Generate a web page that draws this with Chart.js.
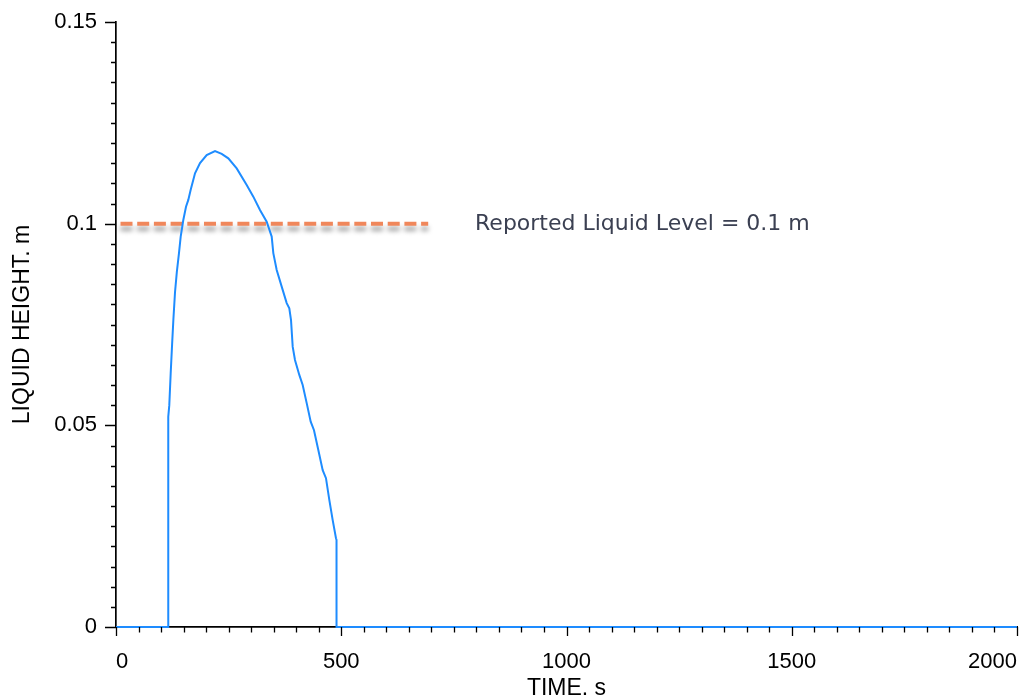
<!DOCTYPE html>
<html>
<head>
<meta charset="utf-8">
<title>Liquid height</title>
<script src="https://cdn.jsdelivr.net/npm/chart.js@4.4.1/dist/chart.umd.min.js"></script>
<style>
  html, body { margin: 0; padding: 0; background: #fff; overflow: hidden; }
  #chart { display: block; }
</style>
</head>
<body>
<canvas id="chart" width="1022" height="698"></canvas>
<script>
// liquid height history (time in s, height in m)
const timeSeconds = [
    0, 116, 116, 118.3, 121.4, 124.5, 127.5, 131.0, 135.0,
    139.8, 143.6, 149.4, 155.4, 160.5, 165.8, 175.4, 186.5, 201.3, 219.8,
    234.6, 249.3, 267.9, 290.1, 304.8, 319.6, 334.5, 345.6, 349.2, 356.7,
    367.8, 378.9, 384.7, 388.5, 392.2, 397.3, 406.9, 414.4, 423.3, 432.2,
    439.5, 449.1, 458.8, 466.1, 473.5, 481.0, 488.3, 489.5, 489.5, 2000
];
const liquidHeight = [
    0, 0, 0.0521, 0.0550, 0.0629, 0.0700, 0.0765, 0.0830, 0.0880,
    0.0927, 0.0968, 0.1009, 0.1042, 0.1059, 0.1084, 0.1125, 0.1150, 0.1170, 0.1180,
    0.1173, 0.1162, 0.1137, 0.1096, 0.1067, 0.1034, 0.1005, 0.0968, 0.0927, 0.0885,
    0.0844, 0.0803, 0.0790, 0.0761, 0.0695, 0.0662, 0.0625, 0.0600, 0.0555, 0.0509,
    0.0488, 0.0439, 0.0389, 0.0369, 0.0315, 0.0265, 0.0220, 0.0216, 0, 0
];

// reported level marker
const reportedLevel = 0.1;
const reportedSpan = [10, 693];
const reportedText = "Reported Liquid Level = 0.1 m";
const reportedTextTime = 797;

// axes
const xMajorTicks = [0, 500, 1000, 1500, 2000];
const yMajorTicks = [0, 0.05, 0.1, 0.15];
const xTitle = "TIME. s";
const yTitle = "LIQUID HEIGHT. m";

const tickFont = { family: "'Liberation Sans', Arial, sans-serif", size: 22 };
const titleFont = { family: "'Liberation Sans', Arial, sans-serif", size: 23, lineHeight: 0.8 };

function majorLabel(list, value) {
    const hit = list.find(m => Math.abs(m - value) < 1e-9);
    return hit === undefined ? "" : String(hit);
}

// minor/major tick marks drawn outward from the axis lines
const axisTicks = {
    id: "axisTicks",
    afterDraw(chart) {
        const { ctx, scales: { x, y } } = chart;
        ctx.save();
        ctx.strokeStyle = "#000";
        ctx.lineWidth = 1.3;
        ctx.beginPath();
        x.ticks.forEach(t => {
            const px = Math.round(x.getPixelForValue(t.value)) + 0.5;
            const len = majorLabel(xMajorTicks, t.value) !== "" ? 9 : 5.5;
            ctx.moveTo(px, y.bottom);
            ctx.lineTo(px, y.bottom + len);
        });
        y.ticks.forEach(t => {
            const py = Math.round(y.getPixelForValue(t.value)) + 0.5;
            const len = majorLabel(yMajorTicks, t.value) !== "" ? 11 : 5;
            ctx.moveTo(x.left, py);
            ctx.lineTo(x.left - len, py);
        });
        ctx.stroke();
        ctx.restore();
    }
};

// soft grey shadow under the dashed level line
const dashShadow = {
    id: "dashShadow",
    beforeDatasetDraw(chart, args) {
        if (args.index !== 1) return;
        const ctx = chart.ctx;
        ctx.save();
        ctx.shadowColor = "rgba(0, 0, 0, 0.4)";
        ctx.shadowBlur = 5;
        ctx.shadowOffsetX = 0;
        ctx.shadowOffsetY = 5;
    },
    afterDatasetDraw(chart, args) {
        if (args.index !== 1) return;
        chart.ctx.restore();
    }
};

const levelLabel = {
    id: "levelLabel",
    afterDatasetsDraw(chart) {
        const { ctx, scales: { x, y } } = chart;
        ctx.save();
        ctx.font = "22px 'DejaVu Sans', Verdana, sans-serif";
        ctx.fillStyle = "#3b4052";
        ctx.textAlign = "left";
        ctx.textBaseline = "middle";
        ctx.fillText(reportedText, x.getPixelForValue(reportedTextTime), y.getPixelForValue(reportedLevel) + 1);
        ctx.restore();
    }
};

const heightPoints = timeSeconds.map((t, i) => ({ x: t, y: liquidHeight[i] }));
const levelPoints = reportedSpan.map(t => ({ x: t, y: reportedLevel }));

new Chart(document.getElementById("chart"), {
    type: "line",
    data: {
        datasets: [
            {
                data: heightPoints,
                borderColor: "#1e8cff",
                borderWidth: 2,
                pointRadius: 0,
                tension: 0,
                fill: false,
                clip: false
            },
            {
                data: levelPoints,
                borderColor: "#f0875b",
                borderWidth: 4,
                borderDash: [12, 4.7],
                borderCapStyle: "butt",
                pointRadius: 0,
                fill: false,
                clip: false
            }
        ]
    },
    options: {
        responsive: false,
        animation: false,
        devicePixelRatio: 1,
        layout: { autoPadding: false, padding: { top: 22, right: 5, left: 0, bottom: 0 } },
        plugins: {
            legend: { display: false },
            tooltip: { enabled: false }
        },
        scales: {
            x: {
                type: "linear",
                min: 0,
                max: 2000,
                afterFit(scale) {
                    scale.height = 71;
                    scale.paddingLeft = 0;
                    scale.paddingRight = 0;
                },
                border: { display: true, color: "#000", width: 1.7 },
                grid: { display: false, drawTicks: true, tickLength: 9 },
                ticks: {
                    stepSize: 50,
                    maxTicksLimit: 100,
                    autoSkip: false,
                    maxRotation: 0,
                    align: "inner",
                    padding: 13,
                    color: "#000",
                    font: tickFont,
                    callback: v => majorLabel(xMajorTicks, v)
                },
                title: {
                    display: true,
                    text: xTitle,
                    color: "#000",
                    font: titleFont,
                    padding: { top: 0, bottom: 0 }
                }
            },
            y: {
                type: "linear",
                min: 0,
                max: 0.15,
                afterFit(scale) {
                    scale.width = 116;
                    scale.paddingTop = 0;
                    scale.paddingBottom = 0;
                },
                border: { display: true, color: "#000", width: 1.7 },
                grid: { display: false, drawTicks: true, tickLength: 11 },
                ticks: {
                    stepSize: 0.005,
                    maxTicksLimit: 100,
                    autoSkip: false,
                    padding: 8,
                    color: "#000",
                    font: tickFont,
                    callback: v => majorLabel(yMajorTicks, v)
                },
                title: {
                    display: true,
                    text: yTitle,
                    color: "#000",
                    font: titleFont,
                    padding: { top: 13, bottom: 0 }
                }
            }
        }
    },
    plugins: [axisTicks, dashShadow, levelLabel]
});
</script>
</body>
</html>
